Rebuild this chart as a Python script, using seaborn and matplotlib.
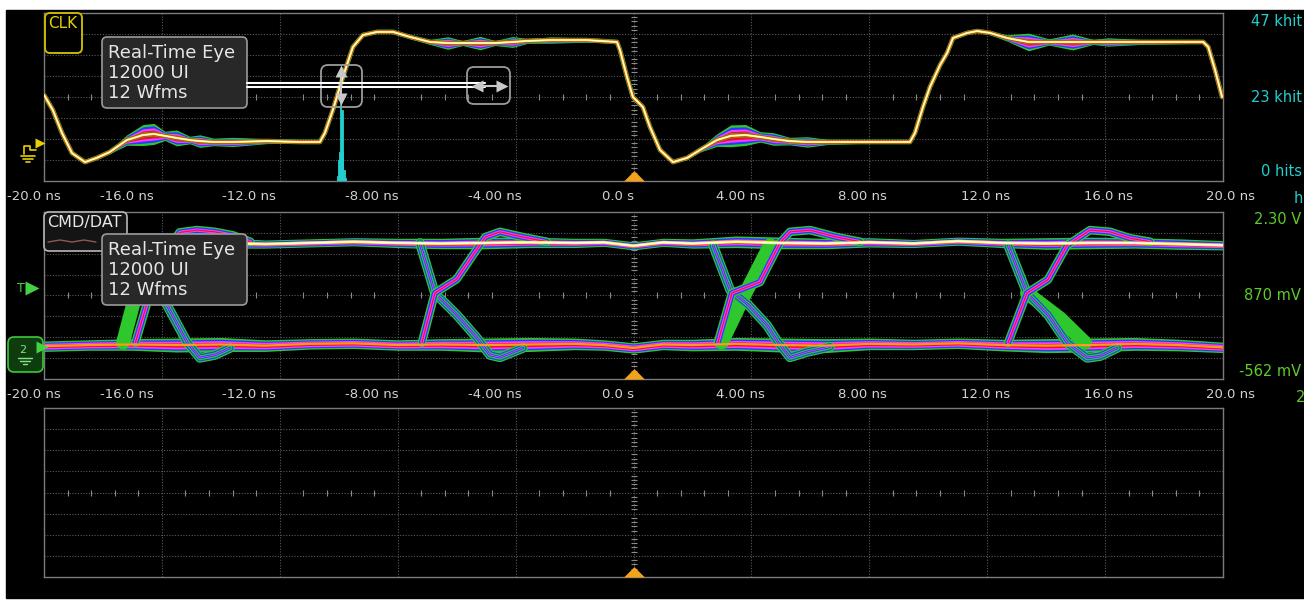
# coding=utf-8
import numpy as np
import matplotlib
matplotlib.use('Agg')
import matplotlib.pyplot as plt
import matplotlib.transforms as mtrans
from matplotlib.patches import FancyBboxPatch, Rectangle
from matplotlib.lines import Line2D
import seaborn as sns

sns.set_theme(style='dark')
plt.rcParams['font.family'] = ['DejaVu Sans']

W, H = 1304, 600

# ---------------- data ----------------
# time axis (ns)
tick_ns = [-20, -16, -12, -8, -4, 0, 4, 8, 12, 16, 20]
tick_text = ['-20.0 ns', '-16.0 ns', '-12.0 ns', '-8.00 ns', '-4.00 ns', '0.0 s',
             '4.00 ns', '8.00 ns', '12.0 ns', '16.0 ns', '20.0 ns']

# CLK trace, vertical unit = divisions from centre, spread = persistence half width
clk_t = [-20.0, -19.70, -19.39, -19.05, -18.61, -18.21, -17.77, -17.19, -16.64, -16.27,
         -15.90, -15.50, -15.05, -14.71, -14.25, -13.59, -12.44, -11.32, -10.64, -10.47,
         -10.20, -9.86, -9.52, -9.18, -8.70, -8.16, -7.58, -6.90, -6.30, -5.80,
         -5.20, -4.70, -4.10, -3.60, -2.80, -1.60, -0.56, -0.46, -0.22, -0.02,
         0.32, 0.56, 0.90, 1.34, 1.82, 2.26, 2.83, 3.30, 3.80, 4.30,
         4.75, 5.30, 5.90, 6.60, 8.02, 9.38, 9.55, 9.82, 10.06, 10.40,
         10.64, 10.84, 11.32, 11.66, 12.10, 12.67, 13.40, 14.10, 14.90, 15.60,
         16.10, 17.19, 19.33, 19.50, 19.73, 19.97]
clk_v = [0.10, -0.62, -1.71, -2.67, -3.10, -2.90, -2.62, -2.05, -1.81, -1.76,
         -1.85, -1.95, -2.05, -2.10, -2.14, -2.14, -2.10, -2.14, -2.14, -1.71,
         -0.62, 0.95, 2.38, 2.95, 3.10, 3.10, 2.86, 2.62, 2.57, 2.57,
         2.57, 2.57, 2.62, 2.67, 2.71, 2.71, 2.62, 2.24, 0.95, 0.00,
         -0.48, -1.43, -2.52, -3.10, -2.90, -2.52, -2.05, -1.85, -1.81, -1.90,
         -2.00, -2.10, -2.14, -2.14, -2.14, -2.14, -1.71, -0.48, 0.48, 1.52,
         2.10, 2.81, 3.05, 3.14, 3.05, 2.81, 2.62, 2.62, 2.62, 2.62,
         2.62, 2.62, 2.62, 2.38, 1.29, 0.00]
clk_s = [0.05, 0.05, 0.05, 0.05, 0.06, 0.06, 0.08, 0.25, 0.50, 0.50,
         0.22, 0.38, 0.18, 0.30, 0.18, 0.22, 0.12, 0.06, 0.04, 0.04,
         0.04, 0.04, 0.04, 0.05, 0.06, 0.08, 0.08, 0.12, 0.30, 0.12,
         0.32, 0.12, 0.26, 0.12, 0.15, 0.10, 0.05, 0.04, 0.04, 0.04,
         0.04, 0.04, 0.05, 0.06, 0.06, 0.10, 0.30, 0.52, 0.50, 0.25,
         0.30, 0.18, 0.25, 0.12, 0.06, 0.04, 0.04, 0.04, 0.04, 0.04,
         0.04, 0.05, 0.06, 0.06, 0.08, 0.15, 0.42, 0.15, 0.38, 0.12,
         0.20, 0.12, 0.06, 0.04, 0.04, 0.04]

# edge-time histogram on CLK
hist_t = [-10.03, -9.99, -9.96, -9.93, -9.89, -9.86, -9.82, -9.79]
hist_hits = [1500, 6000, 8000, 21800, 20000, 8000, 3000, 800]
hist_text = ['47 khit', '23 khit', '0 hits']
hist_top = 47000

# CMD/DAT eye (volts)
volt_top, volt_bottom = 2.30, -0.562
volt_text = ['2.30 V', '870 mV', '-562 mV']

rail_t = [-20, -18.5, -17, -15.5, -14, -12.5, -11, -9.5, -8, -6.5, -5, -3.5, -2, -1, 0,
          1, 2, 3.5, 5, 6.5, 8, 9.5, 11, 12.5, 14, 15.5, 17, 18.5, 20]
hi_v = [1.77, 1.77, 1.76, 1.78, 1.77, 1.75, 1.77, 1.79, 1.77, 1.76, 1.77, 1.78, 1.77, 1.78, 1.72,
        1.78, 1.76, 1.79, 1.77, 1.76, 1.78, 1.76, 1.80, 1.77, 1.76, 1.77, 1.77, 1.75, 1.73]
hi_s = [0.08, 0.08, 0.08, 0.10, 0.09, 0.07, 0.07, 0.07, 0.08, 0.09, 0.10, 0.09, 0.08, 0.07, 0.07,
        0.07, 0.08, 0.10, 0.10, 0.09, 0.08, 0.07, 0.07, 0.08, 0.10, 0.10, 0.09, 0.09, 0.08]
lo_v = [0.00, 0.02, 0.03, 0.02, 0.03, 0.01, 0.04, 0.05, 0.02, 0.03, 0.02, 0.03, 0.04, 0.02, -0.03,
        0.03, 0.02, 0.04, 0.02, 0.01, 0.04, 0.03, 0.05, 0.02, 0.01, 0.02, 0.04, 0.02, -0.02]
lo_s = [0.09, 0.09, 0.10, 0.12, 0.12, 0.10, 0.09, 0.09, 0.09, 0.10, 0.12, 0.12, 0.10, 0.09, 0.09,
        0.09, 0.10, 0.11, 0.12, 0.12, 0.10, 0.09, 0.09, 0.10, 0.12, 0.12, 0.11, 0.10, 0.09]

# transitions
fall1_t = [-16.58, -16.07, -15.83, -15.15, -14.71, -14.20, -13.69]
fall1_v = [1.77, 0.91, 0.71, 0.07, -0.20, -0.15, -0.03]
rise1_t = [-16.90, -16.40, -15.90, -15.40, -14.81, -14.20, -13.59, -13.00]
rise1_v = [0.06, 0.91, 1.60, 1.95, 1.99, 1.96, 1.90, 1.79]
band1_t = [-17.32, -16.98, -16.41]
band1_v = [0.06, 0.71, 1.77]

fall2_t = [-7.25, -6.74, -6.00, -5.31, -4.87, -4.53, -3.75]
fall2_v = [1.77, 0.91, 0.54, 0.14, -0.15, -0.19, -0.03]
rise2_t = [-7.18, -6.74, -6.00, -5.45, -5.03, -4.53, -3.75, -2.94]
rise2_v = [0.06, 0.91, 1.15, 1.56, 1.87, 1.96, 1.87, 1.79]

fall3_t = [2.70, 3.28, 3.89, 4.53, 4.90, 5.31, 5.88, 6.67]
fall3_v = [1.73, 0.96, 0.71, 0.36, 0.07, -0.19, -0.10, -0.01]
rise3_t = [2.86, 3.34, 4.29, 4.63, 4.97, 5.31, 5.99, 6.90, 7.69]
rise3_v = [0.06, 0.91, 1.10, 1.44, 1.77, 1.96, 1.99, 1.87, 1.79]
band3_t = [2.99, 3.77, 4.63]
band3_v = [0.06, 0.88, 1.73]

fall4_t = [12.71, 13.35, 14.06, 14.71, 15.39, 15.83, 16.41]
fall4_v = [1.73, 0.91, 0.54, 0.06, -0.20, -0.17, -0.03]
rise4_t = [12.71, 13.35, 14.06, 14.71, 15.49, 16.17, 16.85, 17.53]
rise4_v = [0.06, 0.91, 1.14, 1.73, 1.99, 1.96, 1.85, 1.79]
band4_t = [13.35, 14.47, 15.32]
band4_v = [0.91, 0.48, 0.06]

# ---------------- colours ----------------
GREEN = '#2ec82e'
BLUE = '#1f3dff'
MAGENTA = '#ff38ff'
RED = '#e8141e'
ORANGE = '#ff9a1a'
YELLOW = '#ffe81e'
CYAN = '#22cfcf'
LGREEN = '#5ccc2a'
GRID = '#5a5a5a'
TXT = '#d2d2d2'


def fx(x):
    return x / W


def fy(y):
    return 1 - y / H


fig = plt.figure(figsize=(W / 100, H / 100), dpi=100)
fig.patch.set_facecolor('white')
fig.add_artist(Rectangle((fx(6), fy(598)), 1 - fx(6), fy(10) - fy(598),
                         transform=fig.transFigure, color='black', zorder=-5))


def px_axes(x0, y0, x1, y1):
    return fig.add_axes([fx(x0), fy(y1), fx(x1) - fx(x0), fy(y0) - fy(y1)])


def scope_grid(ax, lo, hi):
    ax.set_facecolor('black')
    ax.set_xlim(-20, 20)
    ax.set_ylim(lo, hi)
    ax.set_xticks([])
    ax.set_yticks([])
    for sp in ax.spines.values():
        sp.set_visible(True)
        sp.set_color('#7c7c7c')
        sp.set_linewidth(1.0)
    for t in tick_ns[1:-1]:
        ax.axvline(t, color=GRID, lw=0.8, ls=(0, (1, 1.5)), zorder=0)
    divs = np.linspace(lo, hi, 9)
    for y in divs[1:-1]:
        ax.axhline(y, color=GRID, lw=0.8, ls=(0, (1, 1.5)), zorder=0)
    mid = divs[4]
    mt = [t for t in np.arange(-19.2, 19.3, 0.8) if abs(t / 4 - round(t / 4)) > 1e-6]
    ax.plot(mt, [mid] * len(mt), ls='none', marker='|', ms=5, mew=0.8, color='#8a8a8a', zorder=1)
    mv = [v for i, v in enumerate(np.linspace(lo, hi, 41)) if i % 5 != 0]
    ax.plot([0] * len(mv), mv, ls='none', marker='_', ms=4, mew=0.8, color='#8a8a8a', zorder=1)
    tri = [(-1, 0), (1, 0), (0, 1.0)]
    ax.plot([0], [lo], ls='none', marker=tri, ms=15, color='#f2a31c', mec='none',
            clip_on=False, zorder=6)


def envelope(ax, t, v, s, fills):
    t = np.asarray(t); v = np.asarray(v); s = np.asarray(s)
    for frac, col in fills:
        ax.fill_between(t, v - s * frac, v + s * frac, color=col, lw=0, zorder=2)


def lines(ax, t, v, layers, z=3):
    for lw, col in layers:
        sns.lineplot(x=t, y=v, ax=ax, color=col, lw=lw, sort=False, estimator=None,
                     solid_joinstyle='round', solid_capstyle='round', zorder=z)


ax1 = px_axes(44, 13, 1223, 181)
ax2 = px_axes(44, 212, 1223, 379)
ax3 = px_axes(44, 408, 1223, 577)
scope_grid(ax1, -4, 4)
scope_grid(ax2, volt_bottom, volt_top)
scope_grid(ax3, -4, 4)

# ---- CLK ----
envelope(ax1, clk_t, clk_v, clk_s, [(1.0, GREEN), (0.78, BLUE), (0.58, MAGENTA), (0.38, RED)])
lines(ax1, clk_t, clk_v, [(3.4, GREEN), (2.6, RED), (1.7, YELLOW), (0.8, 'white')])

axh = ax1.twinx()
axh.set_ylim(0, hist_top)
axh.set_yticks([])
for sp in axh.spines.values():
    sp.set_visible(False)
axh.patch.set_visible(False)
axh.bar(hist_t, hist_hits, width=0.04, color=CYAN, ec=CYAN, lw=0.6, zorder=4)

# ---- CMD/DAT ----
envelope(ax2, rail_t, hi_v, hi_s, [(1.0, GREEN), (0.75, BLUE), (0.5, MAGENTA), (0.3, RED)])
envelope(ax2, rail_t, lo_v, lo_s, [(1.0, GREEN), (0.75, BLUE), (0.55, MAGENTA), (0.3, RED)])

band_style = [(10.0, GREEN)]
fall_style = [(7.0, GREEN), (5.2, BLUE), (3.6, GREEN), (1.8, BLUE), (0.6, MAGENTA)]
rise_style = [(6.2, GREEN), (4.2, BLUE), (2.4, MAGENTA), (0.8, RED)]
for bt, bv in [(band1_t, band1_v), (band3_t, band3_v), (band4_t, band4_v)]:
    lines(ax2, bt, bv, band_style)
for ft, fv in [(fall1_t, fall1_v), (fall2_t, fall2_v), (fall3_t, fall3_v), (fall4_t, fall4_v)]:
    lines(ax2, ft, fv, fall_style)
for rt, rv in [(rise1_t, rise1_v), (rise2_t, rise2_v), (rise3_t, rise3_v), (rise4_t, rise4_v)]:
    lines(ax2, rt, rv, rise_style)

lines(ax2, rail_t, hi_v, [(2.2, YELLOW), (1.1, 'white')], z=4)
lines(ax2, rail_t, lo_v, [(1.6, ORANGE)], z=4)

# ---------------- time labels ----------------
lab = fig.add_axes([fx(4), 0, fx(1231) - fx(4), 1], zorder=3)
lab.set_xlim(-20, 20)
lab.axis('off')
tr = mtrans.blended_transform_factory(lab.transData, fig.transFigure)
for row in (197, 394):
    for t, s in zip(tick_ns, tick_text):
        if t == -20:
            fig.text(fx(7), fy(row), s, ha='left', va='center', fontsize=9.5, color=TXT)
        else:
            lab.text(t, fy(row), s, transform=tr, ha='center', va='center',
                     fontsize=9.5, color=TXT)

# right-hand scale labels
for s, y in zip(hist_text, (21, 97, 172)):
    fig.text(fx(1302), fy(y), s, ha='right', va='center', fontsize=10.5, color=CYAN)
for s, y in zip(volt_text, (219, 295, 371)):
    fig.text(fx(1301), fy(y), s, ha='right', va='center', fontsize=10.5, color=LGREEN)
fig.text(fx(1294), fy(198), 'h', ha='left', va='center', fontsize=10.5, color=CYAN)
fig.text(fx(1296), fy(397), '2', ha='left', va='center', fontsize=10.5, color=LGREEN)


# ---------------- overlays ----------------
def fig_box(x0, y0, x1, y1, ec, fc, lw=1.2, r=5, z=5):
    p = FancyBboxPatch((fx(x0), fy(y1)), fx(x1) - fx(x0), fy(y0) - fy(y1),
                       boxstyle='round,pad=0,rounding_size=%f' % (r / W),
                       mutation_aspect=W / H, transform=fig.transFigure,
                       ec=ec, fc=fc, lw=lw, zorder=z)
    fig.add_artist(p)


def fig_line(xs, ys, color, lw, z=6):
    fig.add_artist(Line2D([fx(x) for x in xs], [fy(y) for y in ys], color=color, lw=lw,
                          transform=fig.transFigure, zorder=z))


def fig_mark(x, y, m, color, ms, z=7):
    fig.add_artist(Line2D([fx(x)], [fy(y)], ls='none', marker=m, ms=ms, color=color,
                          mec='none', transform=fig.transFigure, zorder=z))


# channel badges
fig_box(45, 13, 82, 53, '#c8b800', 'black', lw=1.4)
fig.text(fx(48), fy(24), 'CLK', fontsize=11, color='#e6d200', va='center', zorder=8)
fig_box(44, 212, 127, 251, '#b8b8b8', '#141414', lw=1.2)
fig.text(fx(47), fy(222), 'CMD/DAT', fontsize=11.5, color='#e8e8e8', va='center', zorder=8)
fig_line([48, 60, 72, 84, 96], [242, 240, 242, 240, 242], '#8a5a50', 1.0, z=7)

# "Real-Time Eye" readouts
for top in (37, 234):
    fig_box(102, top, 247, top + 71, '#9a9a9a', '#282828', lw=1.2)
    for k, s in enumerate(['Real-Time Eye', '12000 UI', '12 Wfms']):
        fig.text(fx(108), fy(top + 16 + 20 * k), s, fontsize=13, color='#e6e6e6',
                 va='center', zorder=8)

# cursor lines and handles on CLK
fig_line([247, 485], [82.7, 82.7], 'white', 1.5)
fig_line([247, 485], [86.7, 86.7], 'white', 1.5)
fig_box(321, 65, 362, 107, '#9c9c9c', 'none', lw=1.3, r=7)
fig_box(467, 67, 510, 104, '#9c9c9c', 'none', lw=1.3, r=7)
fig_line([341, 341], [72, 99], '#c8c8c8', 1.5)
fig_mark(341, 71, '^', '#c8c8c8', 8)
fig_mark(341, 99, 'v', '#c8c8c8', 8)
fig_line([476, 502], [86, 86], '#c8c8c8', 1.5)
fig_mark(477, 86, '<', '#c8c8c8', 8)
fig_mark(502, 86, '>', '#c8c8c8', 8)

# left-hand channel markers
fig_mark(40, 143, '>', '#e6d200', 7)
fig_line([24, 24, 30, 30, 36], [154, 146, 146, 150, 150], '#e6d200', 1.2)
fig_line([21, 35], [156, 156], '#e6d200', 1.2)
fig_line([23, 33], [159, 159], '#e6d200', 1.2)
fig_line([26, 30], [162, 162], '#e6d200', 1.2)

fig.text(fx(17), fy(288), 'T', fontsize=9, color='#44d144', va='center', zorder=8)
fig_mark(32, 288, '>', '#44d144', 10)
fig_box(8, 337, 43, 372, '#3cc83c', '#0e3c0e', lw=1.2, r=6)
fig.text(fx(19), fy(350), '2', fontsize=8, color='#8ae08a', va='center', zorder=8)
fig_line([18, 32], [358, 358], '#8ae08a', 1.0, z=8)
fig_line([20, 30], [361, 361], '#8ae08a', 1.0, z=8)
fig_line([23, 27], [364, 364], '#8ae08a', 1.0, z=8)
fig_mark(42, 347, '>', '#44d144', 9)

fig.savefig('out.png', dpi=100, facecolor='white')
